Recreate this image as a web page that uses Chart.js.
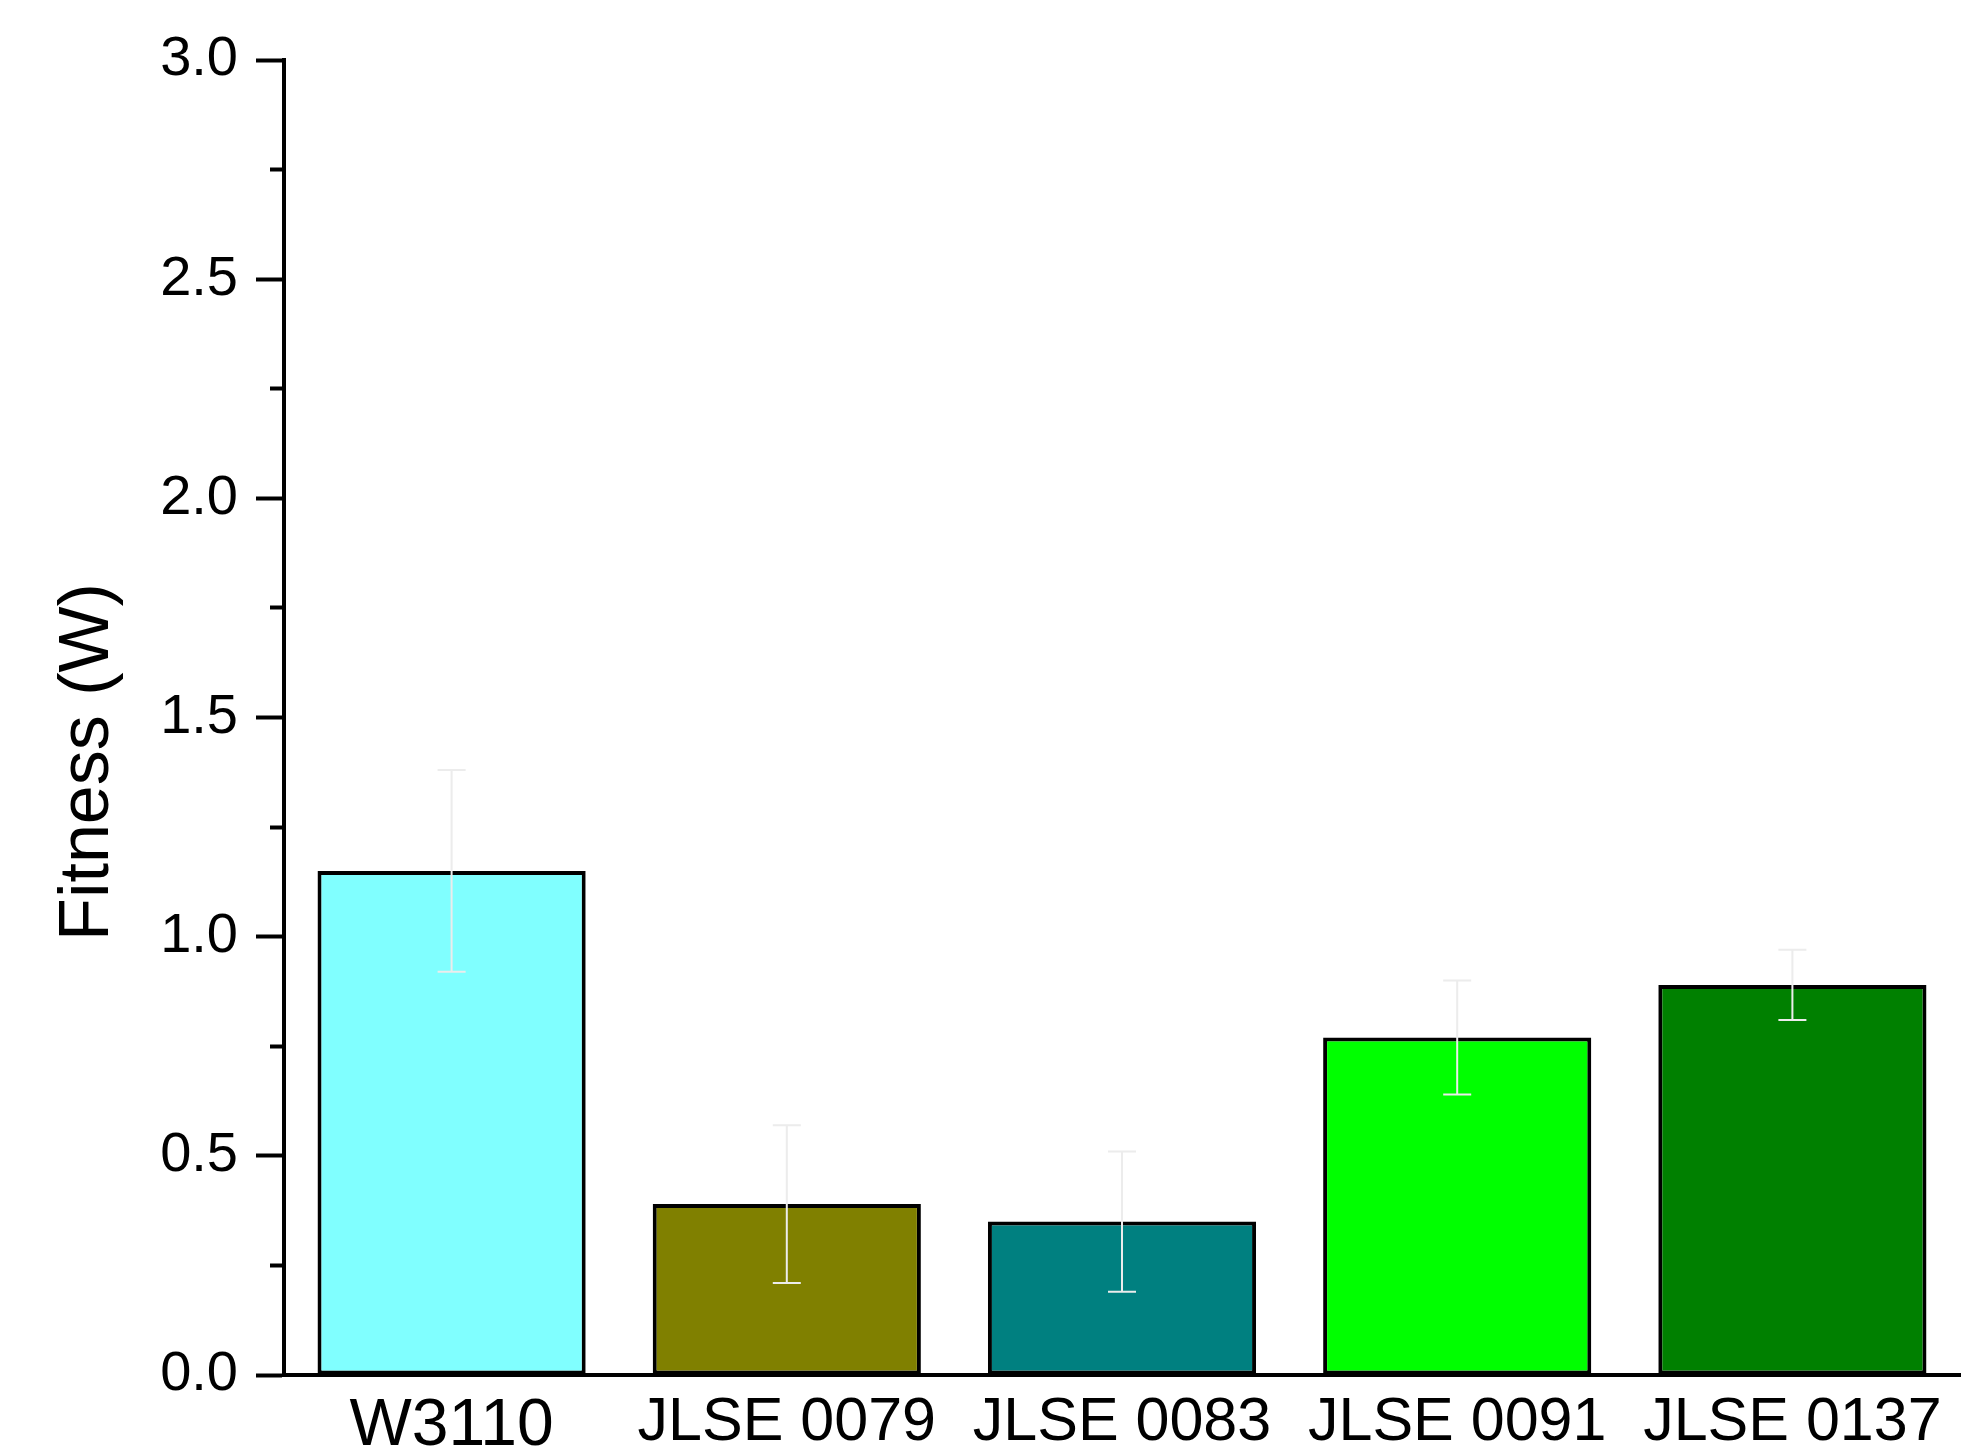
<!DOCTYPE html>
<html>
<head>
<meta charset="utf-8">
<title>Fitness (W)</title>
<script src="https://cdn.jsdelivr.net/npm/chart.js@4.4.1/dist/chart.umd.min.js"></script>
<style>
  html, body { margin: 0; padding: 0; background: #fff; }
  #wrap { width: 1962px; height: 1453px; position: relative; }
</style>
</head>
<body>
<div id="wrap"><canvas id="chart"></canvas></div>
<script>
// strains on the x axis
const strains = ['W3110', 'JLSE 0079', 'JLSE 0083', 'JLSE 0091', 'JLSE 0137'];
// mean fitness and error (±)
const fitness = [1.15, 0.39, 0.35, 0.77, 0.89];
const fitnessErr = [0.23, 0.18, 0.16, 0.13, 0.08];
const barColors = ['#80ffff', '#808000', '#008080', '#00ff00', '#008000'];
// y axis: labelled every 0.5, minor tick every 0.25
const yMin = 0, yMax = 3.0, yMinorStep = 0.25;

const FONT = "'Liberation Sans', Arial, sans-serif";

/** error bars drawn through the y scale */
const errorBars = {
  id: 'errorBars',
  afterDatasetsDraw(chart) {
    const { ctx, scales: { y } } = chart;
    const meta = chart.getDatasetMeta(0);
    ctx.save();
    ctx.strokeStyle = '#ececec';
    ctx.lineWidth = 2;
    meta.data.forEach((bar, i) => {
      const top = y.getPixelForValue(fitness[i] + fitnessErr[i]);
      const bot = y.getPixelForValue(fitness[i] - fitnessErr[i]);
      const cap = 14;
      ctx.beginPath();
      ctx.moveTo(bar.x, top); ctx.lineTo(bar.x, bot);
      ctx.moveTo(bar.x - cap, top); ctx.lineTo(bar.x + cap, top);
      ctx.moveTo(bar.x - cap, bot); ctx.lineTo(bar.x + cap, bot);
      ctx.stroke();
    });
    ctx.restore();
  }
};

/** y axis title, sits a little below the axis middle like the original */
const yTitle = {
  id: 'yTitle',
  afterDraw(chart) {
    const { ctx } = chart;
    ctx.save();
    ctx.translate(89, 762);
    ctx.rotate(-Math.PI / 2);
    ctx.fillStyle = '#000';
    ctx.font = `70px ${FONT}`;
    ctx.textAlign = 'center';
    ctx.textBaseline = 'middle';
    ctx.fillText('Fitness (W)', 0, 0);
    ctx.restore();
  }
};

const isMajor = v => Math.abs(v / 0.5 - Math.round(v / 0.5)) < 1e-6;

new Chart(document.getElementById('chart'), {
  type: 'bar',
  data: {
    labels: strains,
    datasets: [{
      data: fitness,
      backgroundColor: barColors,
      borderColor: '#000',
      borderWidth: 4,
      borderSkipped: false,
      barPercentage: 0.8,
      categoryPercentage: 1.0
    }]
  },
  options: {
    responsive: true,
    maintainAspectRatio: false,
    animation: false,
    layout: { padding: { top: 60, right: 2, left: 0, bottom: 0 } },
    plugins: {
      legend: { display: false },
      tooltip: { enabled: false }
    },
    scales: {
      x: {
        grid: { display: false },
        border: { display: true, color: '#000', width: 4 },
        ticks: {
          color: '#000',
          padding: 4,
          maxRotation: 0,
          autoSkip: false,
          font: ctx => ({ family: FONT, size: ctx.index === 0 ? 66 : 61 })
        },
        afterFit(scale) { scale.height = 78; }
      },
      y: {
        min: yMin,
        max: yMax,
        grid: {
          drawOnChartArea: false,
          drawTicks: true,
          tickLength: 28,
          tickWidth: 4,
          tickColor: '#000',
          tickBorderDash: ctx => isMajor(ctx.tick.value) ? [] : [0, 14, 14, 0]
        },
        border: { display: true, color: '#000', width: 4 },
        ticks: {
          stepSize: yMinorStep,
          autoSkip: false,
          color: '#000',
          padding: 18,
          font: { family: FONT, size: 56 },
          callback: v => isMajor(v) ? v.toFixed(1) : ''
        },
        afterFit(scale) { scale.width = 284; }
      }
    }
  },
  plugins: [errorBars, yTitle]
});
</script>
</body>
</html>
